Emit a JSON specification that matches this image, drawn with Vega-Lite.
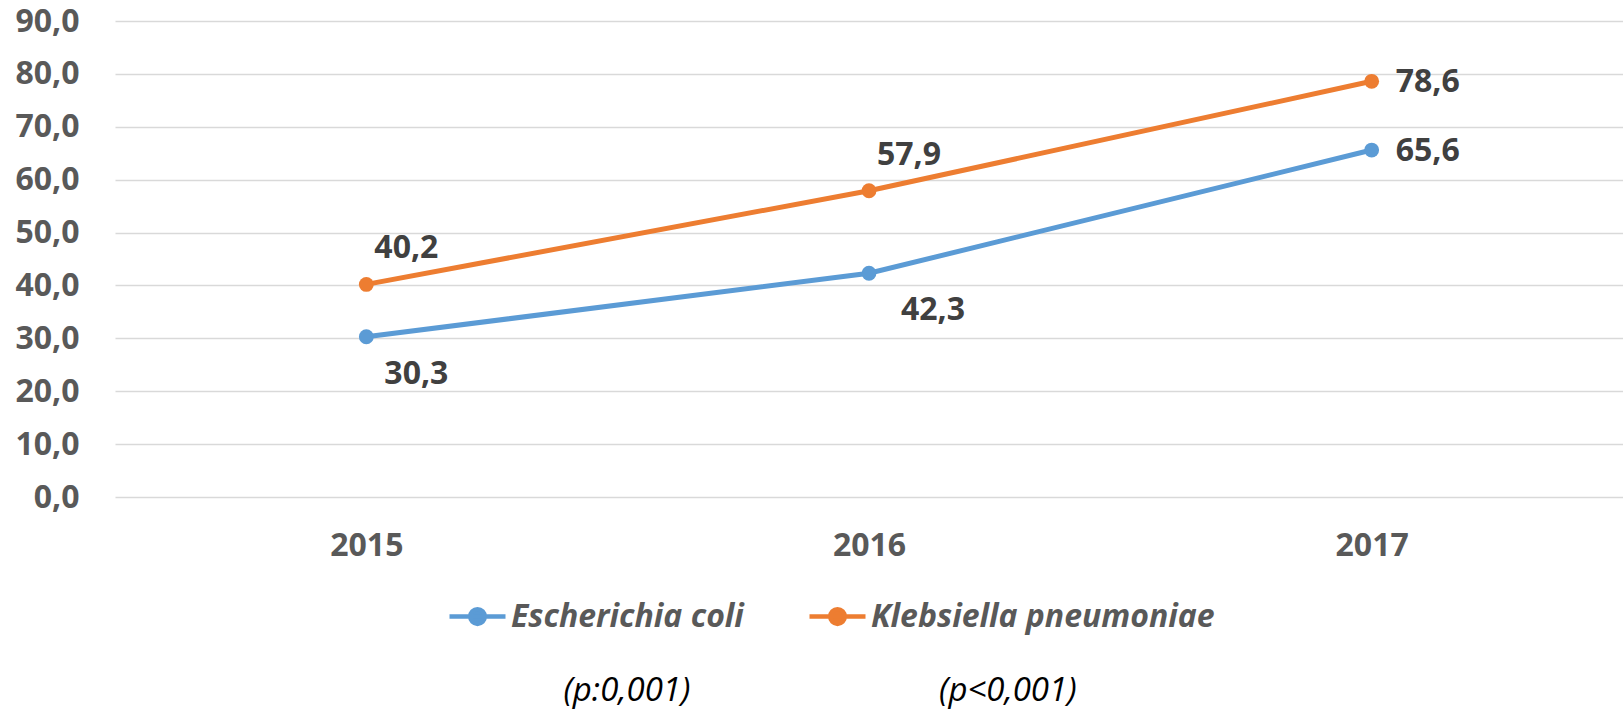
{
  "$schema": "https://vega.github.io/schema/vega-lite/v6.json",
  "width": 1508,
  "height": 476,
  "autosize": {"type": "none"},
  "padding": {"left": 115, "top": 21, "right": 0, "bottom": 220},
  "background": "white",
  "config": {
    "view": {"stroke": null},
    "font": "Open Sans",
    "locale": {"number": {"decimal": ",", "thousands": ".", "grouping": [3], "currency": ["", " €"]}}
  },
  "title": {
    "text": "(p:0,001)\u00a0\u00a0\u00a0\u00a0\u00a0\u00a0\u00a0\u00a0\u00a0\u00a0\u00a0\u00a0\u00a0\u00a0\u00a0\u00a0\u00a0\u00a0\u00a0\u00a0\u00a0\u00a0\u00a0\u00a0\u00a0\u00a0\u00a0\u00a0\u00a0(p<0,001)",
    "orient": "bottom",
    "anchor": "middle",
    "dx": -49,
    "offset": 42,
    "font": "Open Sans",
    "fontSize": 33,
    "fontStyle": "italic",
    "fontWeight": "normal",
    "color": "#000000"
  },
  "data": {
    "values": [
      {"year": "2015", "species": "Escherichia coli", "value": 30.3},
      {"year": "2016", "species": "Escherichia coli", "value": 42.3},
      {"year": "2017", "species": "Escherichia coli", "value": 65.6},
      {"year": "2015", "species": "Klebsiella pneumoniae", "value": 40.2},
      {"year": "2016", "species": "Klebsiella pneumoniae", "value": 57.9},
      {"year": "2017", "species": "Klebsiella pneumoniae", "value": 78.6}
    ]
  },
  "encoding": {
    "x": {
      "field": "year",
      "type": "ordinal",
      "scale": {"type": "point", "padding": 0.5},
      "axis": {
        "title": null,
        "domain": false,
        "ticks": false,
        "grid": false,
        "labelAngle": 0,
        "labelPadding": 33,
        "labelFont": "Open Sans",
        "labelFontSize": 32,
        "labelFontWeight": "bold",
        "labelColor": "#595959"
      }
    },
    "y": {
      "field": "value",
      "type": "quantitative",
      "scale": {"domain": [0, 90], "nice": false},
      "axis": {
        "title": null,
        "values": [0, 10, 20, 30, 40, 50, 60, 70, 80, 90],
        "format": ".1f",
        "domain": false,
        "ticks": false,
        "grid": true,
        "gridColor": "#d9d9d9",
        "gridWidth": 1.5,
        "labelPadding": 36,
        "labelFont": "Open Sans",
        "labelFontSize": 32,
        "labelFontWeight": "bold",
        "labelColor": "#595959"
      }
    },
    "color": {
      "field": "species",
      "type": "nominal",
      "scale": {"domain": ["Escherichia coli", "Klebsiella pneumoniae"], "range": ["#5B9BD5", "#ED7D31"]},
      "legend": {
        "orient": "none",
        "legendX": 332,
        "legendY": 565,
        "direction": "horizontal",
        "title": null,
        "padding": 0,
        "symbolType": "M-1,0L1,0M0.26,0A0.26,0.26,0,1,1,-0.26,0A0.26,0.26,0,1,1,0.26,0Z",
        "symbolSize": 3136,
        "symbolStrokeWidth": 4.5,
        "symbolOpacity": 1,
        "labelFont": "Open Sans",
        "labelFontSize": 32,
        "labelFontStyle": "italic",
        "labelFontWeight": "bold",
        "labelColor": "#595959",
        "labelOffset": 3,
        "labelLimit": 600,
        "columnPadding": 56,
        "encoding": {
          "symbols": {
            "update": {
              "fill": {"value": {"expr": "scale('color', datum.value)"}}
            }
          }
        }
      }
    }
  },
  "layer": [
    {
      "mark": {"type": "line", "strokeWidth": 5, "point": {"filled": true, "size": 220, "opacity": 1}}
    },
    {
      "transform": [{"filter": "datum.species == 'Klebsiella pneumoniae' && datum.year != '2017'"}],
      "mark": {"type": "text", "align": "left", "baseline": "middle", "dx": 8, "dy": -36, "font": "Open Sans", "fontSize": 32, "fontWeight": "bold"},
      "encoding": {"text": {"field": "value", "type": "quantitative", "format": ".1f"}, "color": {"value": "#404040"}}
    },
    {
      "transform": [{"filter": "datum.year == '2017'"}],
      "mark": {"type": "text", "align": "left", "baseline": "middle", "dx": 24, "dy": 1, "font": "Open Sans", "fontSize": 32, "fontWeight": "bold"},
      "encoding": {"text": {"field": "value", "type": "quantitative", "format": ".1f"}, "color": {"value": "#404040"}}
    },
    {
      "transform": [{"filter": "datum.species == 'Escherichia coli' && datum.year == '2015'"}],
      "mark": {"type": "text", "align": "left", "baseline": "middle", "dx": 18, "dy": 37, "font": "Open Sans", "fontSize": 32, "fontWeight": "bold"},
      "encoding": {"text": {"field": "value", "type": "quantitative", "format": ".1f"}, "color": {"value": "#404040"}}
    },
    {
      "transform": [{"filter": "datum.species == 'Escherichia coli' && datum.year == '2016'"}],
      "mark": {"type": "text", "align": "left", "baseline": "middle", "dx": 32, "dy": 37, "font": "Open Sans", "fontSize": 32, "fontWeight": "bold"},
      "encoding": {"text": {"field": "value", "type": "quantitative", "format": ".1f"}, "color": {"value": "#404040"}}
    }
  ]
}
